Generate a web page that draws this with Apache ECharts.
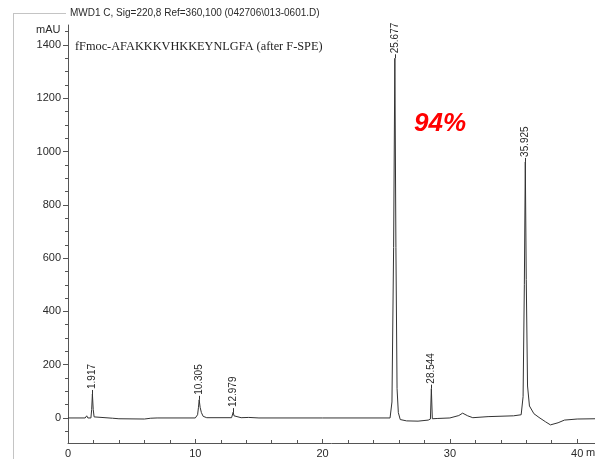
<!DOCTYPE html>
<html>
<head>
<meta charset="utf-8">
<script src="https://cdn.jsdelivr.net/npm/echarts@6/dist/echarts.min.js"></script>
<style>
  html, body { margin: 0; padding: 0; background: #fff; }
  #chart { width: 595px; height: 459px; }
</style>
</head>
<body>
<div id="chart"></div>
<script>
// Chromatogram trace: retention time (min) and detector response (mAU)
const retentionTime = [
  0, 1.35, 1.47, 1.56, 1.80, 1.86, 1.917, 1.98, 2.05, 2.2,
  3.5, 4.0, 6.0, 6.5, 7.0,
  10.0, 10.18, 10.25, 10.305, 10.38, 10.48, 10.62, 10.9,
  12.85, 12.93, 12.979, 13.04, 13.15, 13.6, 14.2, 15.0,
  20.0, 25.3, 25.45, 25.58, 25.677, 25.76, 25.85, 25.95, 26.1,
  26.6, 27.5, 28.3, 28.47, 28.544, 28.62, 29.0,
  30.0, 30.7, 31.0, 31.4, 31.8, 33.0, 35.0, 35.6,
  35.75, 35.85, 35.925, 36.0, 36.1, 36.25, 36.6, 37.0,
  37.5, 37.9, 38.5, 39.0, 40.0, 41.4
];
const response = [
  0, 0, 8, 0, 0, 32, 90, 32, 4, 0,
  -1, -3, -4, -1, 0,
  0, 12, 40, 68, 40, 20, 6, 1,
  1, 8, 22, 8, 2, 1, 2, 0,
  0, 0, 60, 640, 1350, 640, 110, 20, -6,
  -11, -12, -8, -4, 110, -3, -2,
  0, 9, 18, 8, 1, 5, 8, 12,
  80, 500, 961, 520, 120, 45, 16, 2,
  -14, -26, -18, -8, -4, -3
];

// Integrated peaks: retention time at apex and apex height (mAU)
const peakTimes = [1.917, 10.305, 12.979, 25.677, 28.544, 35.925];
const peakHeights = [90, 68, 22, 1350, 110, 961];

// Axis ticks
const xTickValues = [0, 10, 20, 30, 40];
const yTickValues = [0, 200, 400, 600, 800, 1000, 1200, 1400];
const yMinorTickValues = [-50, 50, 100, 150, 250, 300, 350, 450, 500, 550, 650, 700, 750,
  850, 900, 950, 1050, 1100, 1150, 1250, 1300, 1350, 1450];

const title = 'MWD1 C, Sig=220,8 Ref=360,100 (042706\\013-0601.D)';
const sampleName = 'fFmoc-AFAKKKVHKKEYNLGFA (after F-SPE)';
const purityText = '94%';
const yUnit = 'mAU';
const xUnit = 'min';

const Y_MIN = -94, Y_MAX = 1475;
const X_MIN = 0, X_MAX = 41.4;
const axisColor = '#555';
const textColor = '#2a2a2a';

const trace = retentionTime.map((t, i) => [t, response[i]]);
const peaks = peakTimes.map((t, i) => [t, peakHeights[i]]);

const chart = echarts.init(document.getElementById('chart'), null, { renderer: 'canvas' });

chart.setOption({
  animation: false,
  backgroundColor: '#fff',
  grid: { left: 68, right: 0, top: 25, bottom: 16, containLabel: false },
  xAxis: {
    type: 'value',
    min: X_MIN, max: X_MAX, interval: 10,
    axisLine: { show: true, onZero: false, lineStyle: { color: axisColor, width: 1 } },
    axisTick: { show: true, inside: true, length: 4, lineStyle: { color: axisColor } },
    minorTick: { show: true, splitNumber: 5, length: 3, lineStyle: { color: axisColor } },
    axisLabel: {
      show: true, margin: 5, fontFamily: 'Arial, Liberation Sans', fontSize: 11, color: textColor,
      customValues: xTickValues,
      formatter: v => String(v)
    },
    splitLine: { show: false }
  },
  yAxis: [
    {
      type: 'value',
      min: Y_MIN, max: Y_MAX,
      axisLine: { show: true, lineStyle: { color: axisColor, width: 1 } },
      axisTick: { show: true, length: 5, customValues: yTickValues, lineStyle: { color: axisColor } },
      axisLabel: {
        show: true, margin: 7, fontFamily: 'Arial, Liberation Sans', fontSize: 11, color: textColor,
        customValues: yTickValues,
        formatter: v => String(v)
      },
      splitLine: { show: false }
    },
    {
      type: 'value',
      position: 'left',
      min: Y_MIN, max: Y_MAX,
      axisLine: { show: false },
      axisTick: { show: true, length: 3, customValues: yMinorTickValues, lineStyle: { color: axisColor } },
      axisLabel: { show: false },
      splitLine: { show: false }
    }
  ],
  series: [
    {
      type: 'line',
      data: trace,
      showSymbol: false,
      symbol: 'none',
      lineStyle: { color: '#333', width: 1 },
      clip: false,
      z: 3
    },
    {
      // Retention-time labels standing on each peak apex
      type: 'custom',
      data: peaks,
      clip: false,
      z: 4,
      renderItem: function (params, api) {
        const p = api.coord([api.value(0), api.value(1)]);
        const x = Math.round(p[0]) + 0.5;
        const label = peakTimes[params.dataIndex].toFixed(3);
        return {
          type: 'group',
          children: [
            {
              type: 'line',
              shape: { x1: x, y1: p[1], x2: x, y2: p[1] - 4 },
              style: { stroke: '#333', lineWidth: 1 }
            },
            {
              type: 'text',
              x: x,
              y: p[1] - 5,
              rotation: Math.PI / 2,
              style: {
                text: label,
                font: '10px Arial, "Liberation Sans", sans-serif',
                fill: textColor,
                align: 'left',
                verticalAlign: 'middle'
              }
            }
          ]
        };
      }
    }
  ],
  graphic: [
    { type: 'line', shape: { x1: 13.5, y1: 13, x2: 13.5, y2: 459 }, style: { stroke: '#c4c4c4', lineWidth: 1 } },
    { type: 'line', shape: { x1: 13, y1: 13.5, x2: 66, y2: 13.5 }, style: { stroke: '#c4c4c4', lineWidth: 1 } },
    {
      type: 'text', left: 70, top: 8,
      style: { text: title, font: '10px Arial, "Liberation Sans", sans-serif', fill: textColor }
    },
    {
      type: 'text', left: 36, top: 24,
      style: { text: yUnit, font: '11px Arial, "Liberation Sans", sans-serif', fill: textColor }
    },
    {
      type: 'text', left: 75, top: 41,
      style: { text: sampleName, font: '12.3px "Times New Roman", "Liberation Serif", serif', fill: '#222' }
    },
    {
      type: 'text', left: 414, top: 111,
      style: { text: purityText, font: 'italic bold 26px Arial, "Liberation Sans", sans-serif', fill: '#ff0000' }
    },
    {
      type: 'text', left: 586, top: 447,
      style: { text: xUnit, font: '11px Arial, "Liberation Sans", sans-serif', fill: textColor }
    }
  ]
});
</script>
</body>
</html>
